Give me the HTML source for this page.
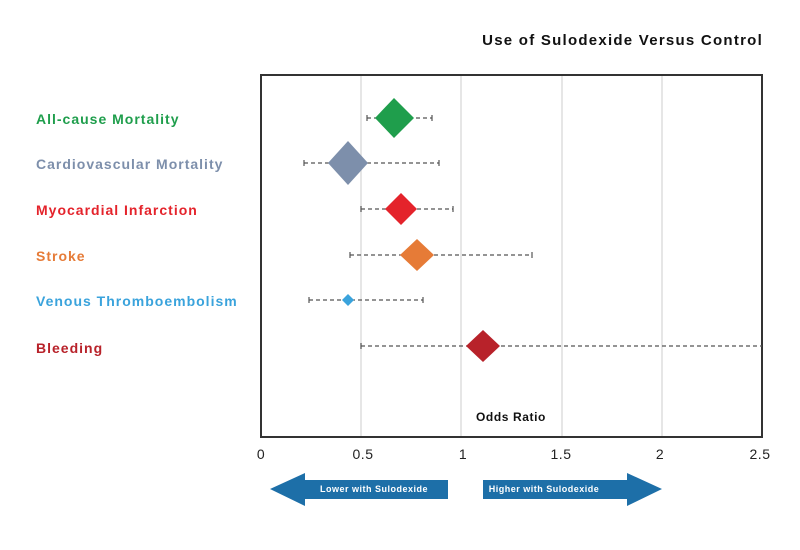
<!DOCTYPE html>
<html><head><style>
body{margin:0;background:#fff;width:800px;height:545px;overflow:hidden}
</style></head><body>
<svg width="800" height="545" xmlns="http://www.w3.org/2000/svg" font-family="Liberation Sans, sans-serif" font-weight="bold">
<text x="763" y="45" text-anchor="end" font-size="15" letter-spacing="1.25" fill="#111">Use of Sulodexide Versus Control</text>
<g stroke="#ddd" stroke-width="1.5">
<line x1="361" y1="76" x2="361" y2="436"/><line x1="461" y1="76" x2="461" y2="436"/>
<line x1="562" y1="76" x2="562" y2="436"/><line x1="662" y1="76" x2="662" y2="436"/>
</g>
<rect x="261" y="75" width="501" height="362" fill="none" stroke="#333" stroke-width="2"/>
<g font-size="14" letter-spacing="1">
<text x="36" y="124" fill="#1f9e4c">All-cause Mortality</text>
<text x="36" y="169" fill="#7d8fab">Cardiovascular Mortality</text>
<text x="36" y="215" fill="#e4232b">Myocardial Infarction</text>
<text x="36" y="261" fill="#e67b37">Stroke</text>
<text x="36" y="306" fill="#3aa3dc">Venous Thromboembolism</text>
<text x="36" y="353" fill="#b8222a">Bleeding</text>
</g>
<g stroke="#555" stroke-width="1.2" stroke-dasharray="4,3">
<line x1="367" y1="118" x2="432" y2="118"/>
<line x1="304" y1="163" x2="439" y2="163"/>
<line x1="361" y1="209" x2="453" y2="209"/>
<line x1="350" y1="255" x2="532" y2="255"/>
<line x1="309" y1="300" x2="423" y2="300"/>
<line x1="361" y1="346" x2="762" y2="346"/>
</g>
<g stroke="#555" stroke-width="1.2">
<line x1="367" y1="115" x2="367" y2="121"/><line x1="432" y1="115" x2="432" y2="121"/>
<line x1="304" y1="160" x2="304" y2="166"/><line x1="439" y1="160" x2="439" y2="166"/>
<line x1="361" y1="206" x2="361" y2="212"/><line x1="453" y1="206" x2="453" y2="212"/>
<line x1="350" y1="252" x2="350" y2="258"/><line x1="532" y1="252" x2="532" y2="258"/>
<line x1="309" y1="297" x2="309" y2="303"/><line x1="423" y1="297" x2="423" y2="303"/>
<line x1="361" y1="343" x2="361" y2="349"/>
</g>
<polygon points="375,118 394,98 414,118 394,138" fill="#1f9e4c"/>
<polygon points="328,163 348,141 368,163 348,185" fill="#7d8fab"/>
<polygon points="385,209 401,193 417,209 401,225" fill="#e4232b"/>
<polygon points="400,255 417,239 434,255 417,271" fill="#e67b37"/>
<polygon points="342,300 348,294 354,300 348,306" fill="#3aa3dc"/>
<polygon points="466,346 483,330 500,346 483,362" fill="#b8222a"/>
<text x="511" y="421" text-anchor="middle" font-size="12" letter-spacing="0.6" fill="#111">Odds Ratio</text>
<g font-size="14" font-weight="normal" fill="#222" text-anchor="middle" letter-spacing="0.5">
<text x="261" y="459">0</text><text x="363" y="459">0.5</text><text x="463" y="459">1</text>
<text x="561" y="459">1.5</text><text x="660" y="459">2</text><text x="760" y="459">2.5</text>
</g>
<polygon points="270,489 305,473 305,480 448,480 448,499 305,499 305,506" fill="#1d6fa8"/>
<polygon points="662,489 627,473 627,480 483,480 483,499 627,499 627,506" fill="#1d6fa8"/>
<g font-size="9" fill="#fff" text-anchor="middle" letter-spacing="0.5">
<text x="374" y="492">Lower with Sulodexide</text>
<text x="544" y="492">Higher with Sulodexide</text>
</g>
</svg>
</body></html>
